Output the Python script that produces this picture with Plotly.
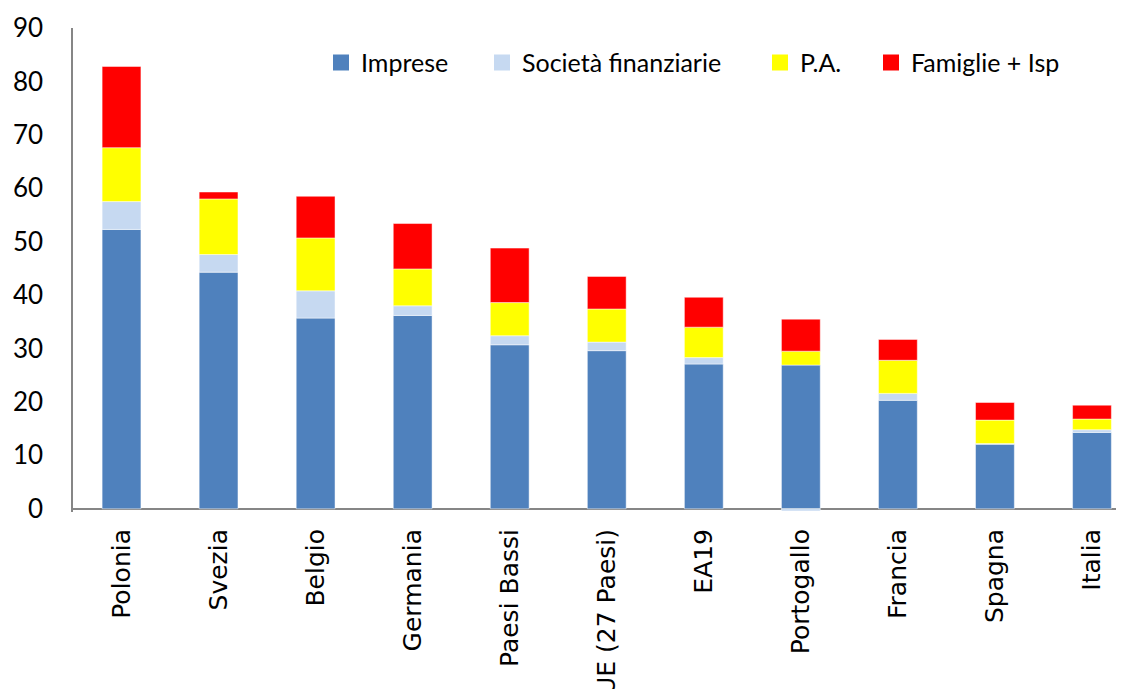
import plotly.graph_objects as go

# Categories and series values (percent)
paesi = ["Polonia", "Svezia", "Belgio", "Germania", "Paesi Bassi", "UE (27 Paesi)",
         "EA19", "Portogallo", "Francia", "Spagna", "Italia"]
imprese = [52.3, 44.3, 35.7, 36.2, 30.7, 29.6, 27.1, 26.9, 20.3, 12.1, 14.3]
soc_finanziarie = [5.2, 3.3, 5.1, 1.8, 1.7, 1.6, 1.2, -0.4, 1.3, 0.1, 0.5]
pa = [10.1, 10.4, 9.9, 6.9, 6.2, 6.2, 5.7, 2.6, 6.2, 4.4, 2.0]
famiglie = [15.2, 1.3, 7.8, 8.5, 10.2, 6.1, 5.6, 6.0, 3.9, 3.3, 2.6]

series = [
    ("Imprese", imprese, "#4F81BD"),
    ("Società finanziarie", soc_finanziarie, "#C6D9F1"),
    ("P.A.", pa, "#FFFF00"),
    ("Famiglie + Isp", famiglie, "#FF0000"),
]

# one legend per entry so each can sit where it is in the original
legend_px = [321, 482, 760, 871]
plot_left, plot_w = 73, 1051

fig = go.Figure()
legends = {}
for i, (name, vals, col) in enumerate(series):
    lg = "legend" if i == 0 else f"legend{i + 1}"
    fig.add_trace(go.Bar(
        x=paesi, y=vals, name=name, showlegend=False,
        marker=dict(color=col, line=dict(color="rgba(255,255,255,0.6)", width=0.8)),
        width=0.4,
    ))
    # legend-only entry, gives the bigger square key of the original
    fig.add_trace(go.Scatter(
        x=[None], y=[None], mode="markers", name=name, legend=lg, showlegend=True,
        marker=dict(symbol="square", size=16, color=col),
    ))
    legends[lg] = dict(
        x=(legend_px[i] - plot_left) / plot_w, y=0.928,
        xanchor="left", yanchor="middle",
        font=dict(size=25, family="Lato"),
        bgcolor="rgba(0,0,0,0)", itemsizing="trace",
    )

# page body has an 8px margin, so margins are trimmed by that much
fig.update_layout(
    barmode="relative",
    showlegend=True,
    width=1124, height=689,
    margin=dict(l=65, r=8, t=20, b=185),
    plot_bgcolor="white", paper_bgcolor="white",
    font=dict(family="Lato, sans-serif", color="#000000"),
    xaxis=dict(
        range=[-0.5, 10.33], tickangle=-90, showline=False, ticks="",
        tickfont=dict(family="DejaVu Sans", size=25),
        ticklabelstandoff=11, automargin=False,
        showgrid=False, zeroline=False,
    ),
    yaxis=dict(
        range=[-0.6, 90], tickvals=list(range(0, 91, 10)),
        showline=True, linecolor="#868686", linewidth=1.5,
        zeroline=True, zerolinecolor="#868686", zerolinewidth=1.5,
        showgrid=False, ticks="", tickfont=dict(size=26, family="Lato"),
        ticklabelstandoff=23, automargin=False,
    ),
    **legends,
)

fig.write_html("out.html")
